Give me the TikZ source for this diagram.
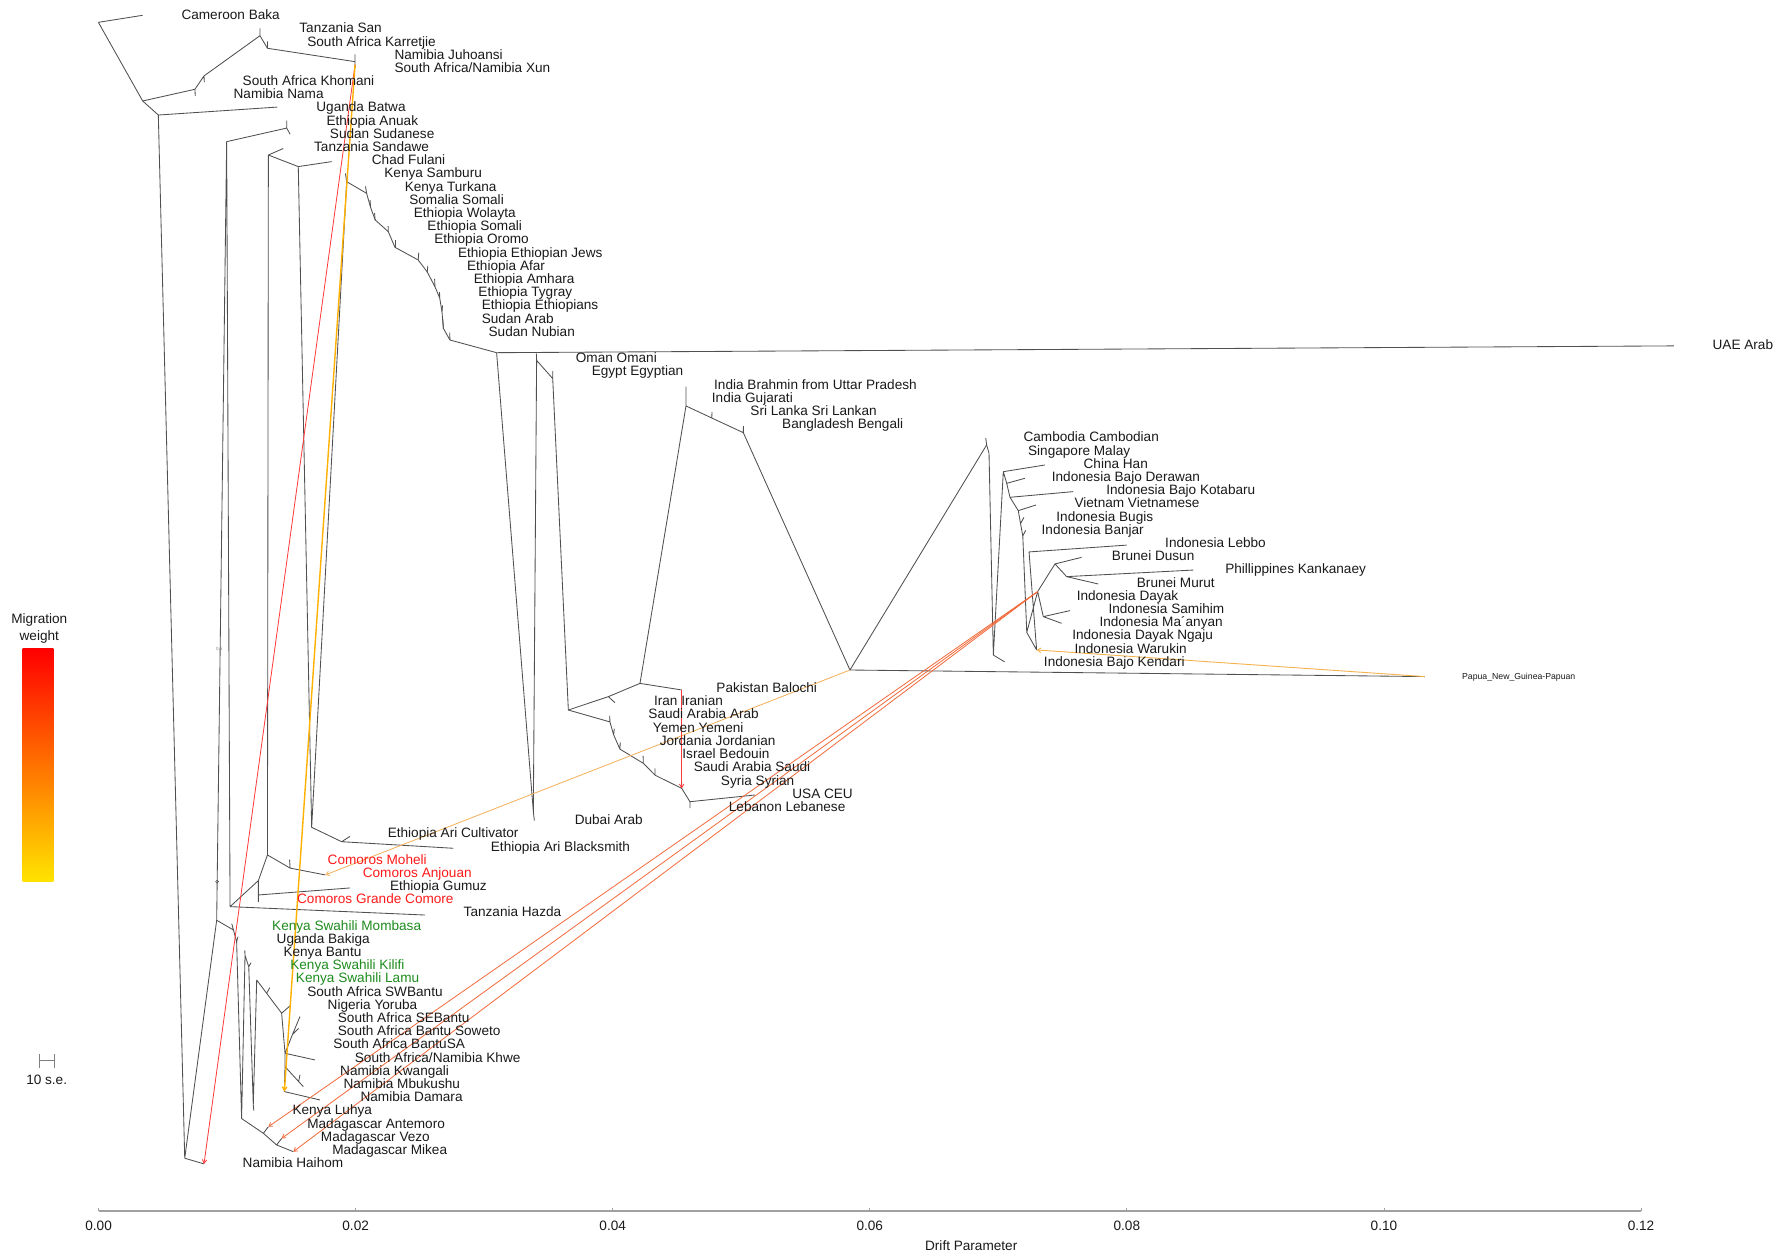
\documentclass[tikz,border=0pt]{standalone}
\usepackage{fontspec}
\setmainfont{Liberation Sans}
\usetikzlibrary{arrows.meta}
\definecolor{treegray}{HTML}{505050}
\definecolor{labred}{HTML}{FF1A1A}
\definecolor{labgreen}{HTML}{1E8C1E}
\definecolor{migred}{HTML}{FF3838}
\definecolor{migorred}{HTML}{F26A3A}
\definecolor{migorange}{HTML}{F5AE5A}
\definecolor{migyellow}{HTML}{FFB000}
\definecolor{migpap}{HTML}{F7B24E}
\definecolor{axisgray}{HTML}{A0A0A0}
\definecolor{txt}{HTML}{1A1A1A}
\begin{document}
\begin{tikzpicture}[x=1.1333pt,y=-1.1333pt,
 tree/.style={draw=treegray,line width=0.85pt,line join=round},
 lab/.style={anchor=base west,inner sep=0pt,yshift=-4.9pt,font=\fontsize{13.6}{15}\selectfont,text=txt},
 cen/.style={anchor=base,inner sep=0pt,yshift=-4.9pt,font=\fontsize{13.6}{15}\selectfont,text=txt},
 redlab/.style={lab,text=labred},
 greenlab/.style={lab,text=labgreen},
 mig/.style={line width=0.8pt,-{Straight Barb[length=3.5pt,width=4.5pt]}},
]
\useasboundingbox[fill=white] (0,0) rectangle (1568,1107.4);

% ---------- coordinates ----------
\coordinate (A) at (86.8,19.7);
\coordinate (tCam) at (125.9,13.5);
\coordinate (B) at (125.9,89.1);
\coordinate (K1) at (172,78.8);
\coordinate (tNama) at (172.3,84.5);
\coordinate (K2) at (180,67);
\coordinate (tKhom) at (180.3,72.5);
\coordinate (K3) at (229.4,31.5);
\coordinate (tSan) at (229.4,25);
\coordinate (K4) at (236,42.6);
\coordinate (tKar) at (236,36.5);
\coordinate (K5) at (313.2,54.4);
\coordinate (tJu) at (313.2,48);
\coordinate (tXun) at (313.4,60);
\coordinate (mJ) at (313.3,57);
\coordinate (C) at (139.7,101.5);
\coordinate (tBatwa) at (244.5,94.5);
\coordinate (D) at (163,1022);
\coordinate (tHai) at (180,1027);
\coordinate (X) at (191.2,812);
\coordinate (W) at (200,125);
\coordinate (AN) at (253,113);
\coordinate (tAnu) at (253,106.5);
\coordinate (tSud) at (256,118.5);
\coordinate (Y) at (203,800);
\coordinate (tHaz) at (375,807.4);
\coordinate (G1) at (228,777);
\coordinate (G2) at (228,789.7);
\coordinate (tGC) at (228,795.8);
\coordinate (tGum) at (309,783.5);
\coordinate (Z) at (236,754.4);
\coordinate (MO) at (256,766);
\coordinate (tMoh) at (255.5,758.5);
\coordinate (tAnj) at (287,772);
\coordinate (S0) at (236.8,136.8);
\coordinate (tSand) at (250,131);
\coordinate (G) at (263.2,147);
\coordinate (tChad) at (292.6,142.6);
\coordinate (F) at (275,730);
\coordinate (AR) at (301.5,742.7);
\coordinate (tAriC) at (308.8,738);
\coordinate (tAriB) at (400,748.5);
% east african chain
\coordinate (e1) at (305.9,160.3);  \coordinate (f1) at (304.8,153);
\coordinate (e2) at (323.5,170.6);  \coordinate (f2) at (322.5,164.5);
\coordinate (e3) at (327,183);      \coordinate (f3) at (326.5,176.5);
\coordinate (e4) at (331,194);      \coordinate (f4) at (330.5,188);
\coordinate (e5) at (342.6,204.4);  \coordinate (f5) at (342.5,199.5);
\coordinate (e6) at (348.5,218.2);  \coordinate (f6) at (348.5,211.5);
\coordinate (e7) at (369,229.4);    \coordinate (f7) at (369.5,223);
\coordinate (e8) at (377,240);      \coordinate (f8) at (377.5,234.5);
\coordinate (e9) at (383.8,253);    \coordinate (f9) at (383.5,246);
\coordinate (e10) at (388,263);     \coordinate (f10) at (387.8,257.8);
\coordinate (e11) at (390,275);     \coordinate (f11) at (390.5,269.5);
\coordinate (e12) at (391.2,289.7); \coordinate (f12) at (390.8,282);
\coordinate (e13) at (397,300);     \coordinate (f13) at (396.8,293.5);
\coordinate (I) at (438.2,311.2);
\coordinate (tUAE) at (1477,305.2);
\coordinate (L) at (470.6,716);
\coordinate (tDub) at (471.5,724);
\coordinate (K) at (473.5,318);
\coordinate (tOman) at (473.3,312);
\coordinate (N) at (487.7,334);
\coordinate (tEgy) at (487.7,327.5);
\coordinate (O) at (501.5,626.5);
\coordinate (R) at (536.8,614.7);
\coordinate (tIran) at (542.6,620);
\coordinate (P) at (564.7,603);
\coordinate (tPak) at (601.5,608.8);
\coordinate (U) at (605.3,358.2);
\coordinate (tBrah) at (605.3,341.2);
\coordinate (SL) at (628,368.8);
\coordinate (tSL) at (628.3,363.5);
\coordinate (BG) at (655.9,381.8);
\coordinate (tBang) at (656,376);
\coordinate (T) at (750,591.2);
\coordinate (tPap) at (1257,597);
% middle east chain
\coordinate (ME1) at (538.2,637);   \coordinate (tSA) at (538,631.5);
\coordinate (ME2) at (541.5,648.5); \coordinate (tYem) at (542,643);
\coordinate (ME3) at (547,661);     \coordinate (tJor) at (547.3,655);
\coordinate (ME4) at (567.6,673.5); \coordinate (tIsr) at (567.5,667);
\coordinate (ME5) at (578,684);     \coordinate (tSau) at (578,678);
\coordinate (ME6) at (601.5,695.6); \coordinate (tSyr) at (601.5,690);
\coordinate (ME7) at (608.8,707.4);
\coordinate (tLeb) at (608.8,713);
\coordinate (tUSA) at (666.2,701.5);
% east asia
\coordinate (A1) at (870.6,392.6);  \coordinate (tCamb) at (869.8,386.5);
\coordinate (A2) at (872.7,400);
\coordinate (A3) at (876.5,578);    \coordinate (tKend) at (886.5,584);
\coordinate (A4) at (885.3,416.2);  \coordinate (tChina) at (922,410.3);
\coordinate (A5) at (888.3,426.5);  \coordinate (tDer) at (904.4,422);
\coordinate (A6) at (891.2,438.8);  \coordinate (tKot) at (947,433.8);
\coordinate (A7) at (898.5,450.6);  \coordinate (tViet) at (914.1,445.6);
\coordinate (A8) at (900.5,462);    \coordinate (tBug) at (903.5,456.5);
\coordinate (A9) at (902.5,473);    \coordinate (tBanj) at (905,468);
\coordinate (DN) at (906,558);
\coordinate (Wk) at (914.7,573.5);
\coordinate (Lb) at (908,487);      \coordinate (tLebbo) at (994.1,481);
\coordinate (B0) at (915.6,522);
\coordinate (B1) at (930.9,497.6);  \coordinate (tDus) at (954.4,491.8);
\coordinate (B2) at (941.2,508.8);  \coordinate (tPhil) at (1053,503);
\coordinate (tMur) at (969.1,515.3);
\coordinate (B3) at (920.6,544.1);  \coordinate (tSam) at (944.1,538.8);
\coordinate (tMaa) at (936.8,550);
% bantu
\coordinate (Mb) at (206,820.6);    \coordinate (tMomb) at (204.5,815);
\coordinate (Bk) at (208.8,831);    \coordinate (tBak) at (210,826.5);
\coordinate (Mad0) at (213.2,987);
\coordinate (MA1) at (232.4,1000);  \coordinate (tAnt) at (236.8,994.2);
\coordinate (MA2) at (244.1,1010.3);\coordinate (tVez) at (248.5,1004.5);
\coordinate (tMik) at (258.8,1016.2);
\coordinate (KB) at (216.2,843);    \coordinate (tKB) at (216,838.5);
\coordinate (Ki) at (219.5,853);    \coordinate (tKil) at (221.5,849.5);
\coordinate (Lu) at (223.5,975);    \coordinate (tLuh) at (224,980);
\coordinate (La) at (226.5,864.7);
\coordinate (SW) at (235.3,876.5);  \coordinate (tSW) at (238,871.5);
\coordinate (Y1) at (248.5,894);    \coordinate (tYor) at (256,887.5);
\coordinate (BN) at (251.5,929.4);
\coordinate (Q1) at (258,913);      \coordinate (tSE) at (264.7,897);
\coordinate (tSow) at (263.5,907.5);
\coordinate (tKhwe) at (278,935.3);
\coordinate (KwN) at (251.5,941.2); \coordinate (tMbu) at (267.6,958.8);
\coordinate (Kq) at (263.5,954.3);  \coordinate (tKwa) at (264.7,948.5);
\coordinate (DM) at (250.9,963.2);  \coordinate (tDam) at (282.4,970.6);

% ---------- tree edges ----------
\draw[tree] (A)--(tCam) (A)--(B) (B)--(K1) (K1)--(tNama) (K1)--(K2) (K2)--(tKhom)
 (K2)--(K3) (K3)--(tSan) (K3)--(K4) (K4)--(tKar) (K4)--(K5) (K5)--(tJu) (K5)--(tXun);
\draw[tree] (B)--(C) (C)--(tBatwa) (C)--(D) (D)--(tHai) (D)--(X) (X)--(W)
 (W)--(AN) (AN)--(tAnu) (AN)--(tSud) (W)--(Y) (Y)--(tHaz)
 (Y)--(G1) (G1)--(G2) (G2)--(tGC) (G2)--(tGum) (G1)--(Z)
 (Z)--(MO) (MO)--(tMoh) (MO)--(tAnj) (Z)--(S0) (S0)--(tSand) (S0)--(G)
 (G)--(tChad) (G)--(F) (F)--(AR) (AR)--(tAriC) (AR)--(tAriB) (F)--(e1);
\draw[tree] (e1)--(e2)--(e3)--(e4)--(e5)--(e6)--(e7)--(e8)--(e9)--(e10)--(e11)--(e12)--(e13)--(I);
\foreach \i in {1,...,13} {\draw[tree] (e\i)--(f\i);}
\draw[tree] (I)--(tUAE) (I)--(L) (L)--(tDub) (L)--(K) (K)--(tOman) (K)--(N) (N)--(tEgy) (N)--(O)
 (O)--(R) (R)--(tIran) (R)--(P) (P)--(tPak) (P)--(U) (U)--(tBrah) (U)--(SL) (SL)--(tSL) (SL)--(BG)
 (BG)--(tBang) (BG)--(T) (T)--(tPap) (T)--(A1);
\draw[tree] (O)--(ME1)--(ME2)--(ME3)--(ME4)--(ME5)--(ME6)--(ME7) (ME7)--(tLeb) (ME7)--(tUSA)
 (ME1)--(tSA) (ME2)--(tYem) (ME3)--(tJor) (ME4)--(tIsr) (ME5)--(tSau) (ME6)--(tSyr);
\draw[tree] (A1)--(tCamb) (A1)--(A2) (A2)--(A3) (A3)--(tKend) (A3)--(A4)
 (A4)--(tChina) (A4)--(A5) (A5)--(tDer) (A5)--(A6) (A6)--(tKot) (A6)--(A7) (A7)--(tViet)
 (A7)--(A8) (A8)--(tBug) (A8)--(A9) (A9)--(tBanj) (A9)--(DN) (DN)--(Wk) (Wk)--(Lb) (Lb)--(tLebbo)
 (DN)--(B0) (B0)--(B1) (B1)--(tDus) (B1)--(B2) (B2)--(tPhil) (B2)--(tMur)
 (B0)--(B3) (B3)--(tSam) (B3)--(tMaa);
\draw[tree] (X)--(Mb) (Mb)--(tMomb) (Mb)--(Bk) (Bk)--(tBak) (Bk)--(Mad0)
 (Mad0)--(MA1) (MA1)--(tAnt) (MA1)--(MA2) (MA2)--(tVez) (MA2)--(tMik)
 (Mad0)--(KB) (KB)--(tKB) (KB)--(Ki) (Ki)--(tKil) (Ki)--(Lu) (Lu)--(tLuh) (Lu)--(La)
 (La)--(SW) (SW)--(tSW) (SW)--(Y1) (Y1)--(tYor) (Y1)--(BN) (BN)--(Q1) (Q1)--(tSE) (Q1)--(tSow)
 (BN)--(tKhwe) (BN)--(KwN) (KwN)--(tMbu) (Kq)--(tKwa) (KwN)--(DM) (DM)--(tDam);
\draw[treegray,line width=0.5pt] (191.6,778) circle[radius=1.5pt];
\node[inner sep=0pt,font=\fontsize{4.5}{5}\selectfont,text=gray] (half) at (193.5,572.6) {0.5};

% ---------- migration edges ----------
\draw[mig,draw=migred] (mJ)--(tHai);
\draw[mig,draw=migyellow,line width=1.4pt] (mJ)--(DM);
\draw[mig,draw=migorange] (T)--(tAnj);
\draw[mig,draw=migred] (tPak)--(ME6);
\draw[mig,draw=migorred] (B0)--(tAnt);
\draw[mig,draw=migorred] (B0)--(tVez);
\draw[mig,draw=migorred] (B0)--(tMik);
\draw[mig,draw=migpap,line width=0.9pt] (tPap)--(Wk);

% ---------- labels ----------
\node[lab] (l1) at (160,13.0) {Cameroon Baka};
\node[lab] (l2) at (264,24.6) {Tanzania San};
\node[lab] (l3) at (271,36.3) {South Africa Karretjie};
\node[lab] (l4) at (348,47.9) {Namibia Juhoansi};
\node[lab] (l5) at (348,59.6) {South Africa/Namibia Xun};
\node[lab] (l6) at (214,71.2) {South Africa Khomani};
\node[lab] (l7) at (206,82.9) {Namibia Nama};
\node[lab] (l8) at (279,94.5) {Uganda Batwa};
\node[lab] (l9) at (288,106.2) {Ethiopia Anuak};
\node[lab] (l10) at (291,117.8) {Sudan Sudanese};
\node[lab] (l11) at (277,129.4) {Tanzania Sandawe};
\node[lab] (l12) at (328,141.1) {Chad Fulani};
\node[lab] (l13) at (339,152.7) {Kenya Samburu};
\node[lab] (l14) at (357,164.4) {Kenya Turkana};
\node[lab] (l15) at (361,176.0) {Somalia Somali};
\node[lab] (l16) at (365,187.7) {Ethiopia Wolayta};
\node[lab] (l17) at (377,199.3) {Ethiopia Somali};
\node[lab] (l18) at (383,210.9) {Ethiopia Oromo};
\node[lab] (l19) at (404,222.6) {Ethiopia Ethiopian Jews};
\node[lab] (l20) at (412,234.2) {Ethiopia Afar};
\node[lab] (l21) at (418,245.9) {Ethiopia Amhara};
\node[lab] (l22) at (422,257.5) {Ethiopia Tygray};
\node[lab] (l23) at (425,269.2) {Ethiopia Ethiopians};
\node[lab] (l24) at (425,280.8) {Sudan Arab};
\node[lab] (l25) at (431,292.5) {Sudan Nubian};
\node[lab] (l26) at (1511,304.1) {UAE Arab};
\node[lab] (l27) at (508,315.7) {Oman Omani};
\node[lab] (l28) at (522,327.4) {Egypt Egyptian};
\node[lab] (l29) at (630,339.0) {India Brahmin from Uttar Pradesh};
\node[lab] (l30) at (628,350.7) {India Gujarati};
\node[lab] (l31) at (662,362.3) {Sri Lanka Sri Lankan};
\node[lab] (l32) at (690,374.0) {Bangladesh Bengali};
\node[lab] (l33) at (903,385.6) {Cambodia Cambodian};
\node[lab] (l34) at (907,397.3) {Singapore Malay};
\node[lab] (l35) at (956,408.9) {China Han};
\node[lab] (l36) at (928,420.5) {Indonesia Bajo Derawan};
\node[lab] (l37) at (976,432.2) {Indonesia Bajo Kotabaru};
\node[lab] (l38) at (948,443.8) {Vietnam Vietnamese};
\node[lab] (l39) at (932,455.5) {Indonesia Bugis};
\node[lab] (l40) at (919,467.1) {Indonesia Banjar};
\node[lab] (l41) at (1028,478.8) {Indonesia Lebbo};
\node[lab] (l42) at (981,490.4) {Brunei Dusun};
\node[lab] (l43) at (1081,502.0) {Phillippines Kankanaey};
\node[lab] (l44) at (1003,513.7) {Brunei Murut};
\node[lab] (l45) at (950,525.3) {Indonesia Dayak};
\node[lab] (l46) at (978,537.0) {Indonesia Samihim};
\node[lab] (l47) at (970,548.6) {Indonesia Ma´anyan};
\node[lab] (l48) at (946,560.3) {Indonesia Dayak Ngaju};
\node[lab] (l49) at (948,571.9) {Indonesia Warukin};
\node[lab] (l50) at (921,583.6) {Indonesia Bajo Kendari};
\node[lab,font=\fontsize{8.7}{10}\selectfont,yshift=1.8pt] (l51) at (1290,596.5) {Papua\_New\_Guinea-Papuan};
\node[lab] (l52) at (632,606.9) {Pakistan Balochi};
\node[lab] (l53) at (577,618.5) {Iran Iranian};
\node[lab] (l54) at (572,630.1) {Saudi Arabia Arab};
\node[lab] (l55) at (576,641.8) {Yemen Yemeni};
\node[lab] (l56) at (582,653.4) {Jordania Jordanian};
\node[lab] (l57) at (602,665.1) {Israel Bedouin};
\node[lab] (l58) at (612,676.7) {Saudi Arabia Saudi};
\node[lab] (l59) at (636,688.4) {Syria Syrian};
\node[lab] (l60) at (699,700.0) {USA CEU};
\node[lab] (l61) at (643,711.6) {Lebanon Lebanese};
\node[lab] (l62) at (507,723.3) {Dubai Arab};
\node[lab] (l63) at (342,734.9) {Ethiopia Ari Cultivator};
\node[lab] (l64) at (433,746.6) {Ethiopia Ari Blacksmith};
\node[redlab] (l65) at (289,758.2) {Comoros Moheli};
\node[redlab] (l66) at (320,769.9) {Comoros Anjouan};
\node[lab] (l67) at (344,781.5) {Ethiopia Gumuz};
\node[redlab] (l68) at (262,793.2) {Comoros Grande Comore};
\node[lab] (l69) at (409,804.8) {Tanzania Hazda};
\node[greenlab] (l70) at (240,816.4) {Kenya Swahili Mombasa};
\node[lab] (l71) at (244,828.1) {Uganda Bakiga};
\node[lab] (l72) at (250,839.7) {Kenya Bantu};
\node[greenlab] (l73) at (256,851.4) {Kenya Swahili Kilifi};
\node[greenlab] (l74) at (261,863.0) {Kenya Swahili Lamu};
\node[lab] (l75) at (271,874.7) {South Africa SWBantu};
\node[lab] (l76) at (289,886.3) {Nigeria Yoruba};
\node[lab] (l77) at (298,897.9) {South Africa SEBantu};
\node[lab] (l78) at (298,909.6) {South Africa Bantu Soweto};
\node[lab] (l79) at (294,921.2) {South Africa BantuSA};
\node[lab] (l80) at (313,932.9) {South Africa/Namibia Khwe};
\node[lab] (l81) at (300,944.5) {Namibia Kwangali};
\node[lab] (l82) at (303,956.2) {Namibia Mbukushu};
\node[lab] (l83) at (318,967.8) {Namibia Damara};
\node[lab] (l84) at (258,979.5) {Kenya Luhya};
\node[lab] (l85) at (271,991.1) {Madagascar Antemoro};
\node[lab] (l86) at (283,1002.7) {Madagascar Vezo};
\node[lab] (l87) at (293,1014.4) {Madagascar Mikea};
\node[lab] (l88) at (214,1026.0) {Namibia Haihom};

% ---------- legend ----------
\node[cen] (mig1) at (34.7,545.6) {Migration};
\node[cen] (mig2) at (34.7,561.2) {weight};
\shade[top color=red, middle color={rgb,255:red,255;green,130;blue,0}, bottom color={rgb,255:red,255;green,228;blue,0}] (20,572.6) rectangle (47,778);
\draw[gray,line width=0.8pt] (34.7,930)--(34.7,942) (47.6,930)--(47.6,942) (34.7,936)--(47.6,936);
\node[cen] (se) at (41.2,953) {10 s.e.};

% ---------- axis ----------
\draw[axisgray,line width=1.5pt] (87,1068.6)--(1448,1068.6);
\foreach \i/\t in {0/0.00,1/0.02,2/0.04,3/0.06,4/0.08,5/0.10,6/0.12} {
  \draw[axisgray,line width=0.8pt] ({87+\i*226.83},1068.6)--({87+\i*226.83},1065.6);
  \node[cen] (tk\i) at ({87+\i*226.83},1081.5) {\t};
}
\node[cen] (xlab) at (857,1099) {Drift Parameter};
\end{tikzpicture}
\end{document}
